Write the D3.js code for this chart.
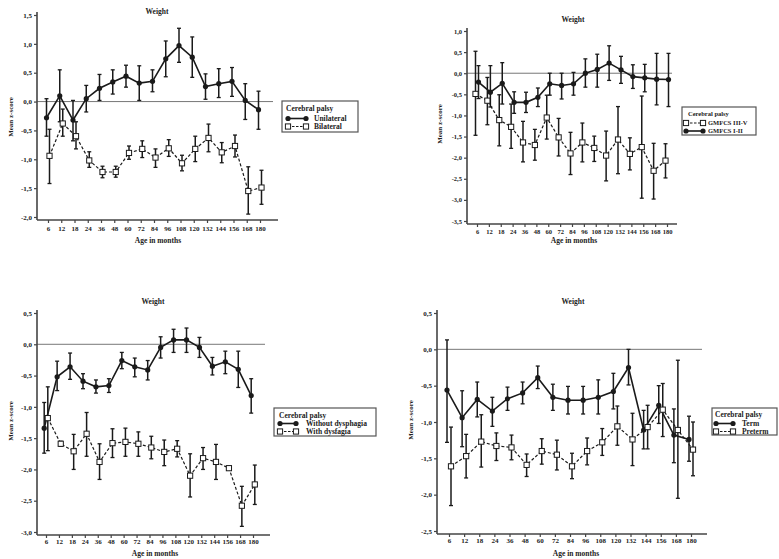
<!DOCTYPE html>
<html>
<head>
<meta charset="utf-8">
<script src="https://cdn.jsdelivr.net/npm/d3@7"></script>
<style>
html,body{margin:0;padding:0;background:#fff;}
svg text{font-family:"Liberation Serif","Times New Roman",serif;font-weight:bold;fill:#222;}
</style>
</head>
<body>
<svg id="chart" width="779" height="559"></svg>
<script>
// ---------- DATA ----------
const ages = [6,12,18,24,36,48,60,72,84,96,108,120,132,144,156,168,180];

// Panel 1: Unilateral vs Bilateral
const unilateralMean = [-0.28,0.10,-0.32,0.05,0.23,0.34,0.44,0.32,0.35,0.74,0.97,0.77,0.26,0.31,0.35,0.02,-0.14];
const unilateralLo   = [-0.60,-0.35,-0.68,-0.18,0.02,0.13,0.25,0.02,0.17,0.43,0.68,0.42,0.04,0.07,0.09,-0.31,-0.48];
const unilateralHi   = [0.05,0.55,0.02,0.28,0.47,0.55,0.63,0.62,0.55,1.05,1.27,1.12,0.48,0.57,0.59,0.31,0.18];
const bilateralMean  = [-0.94,-0.38,-0.60,-1.02,-1.22,-1.22,-0.89,-0.82,-0.97,-0.81,-1.07,-0.82,-0.63,-0.88,-0.77,-1.55,-1.49];
const bilateralLo    = [-1.42,-0.60,-0.82,-1.14,-1.32,-1.31,-1.00,-0.97,-1.14,-0.95,-1.20,-1.04,-0.87,-1.06,-0.96,-1.95,-1.78];
const bilateralHi    = [-0.48,-0.13,-0.35,-0.87,-1.12,-1.12,-0.77,-0.68,-0.82,-0.66,-0.93,-0.60,-0.39,-0.71,-0.58,-1.13,-1.19];

// Panel 2: GMFCS I-II vs III-V
const gmfcs12Mean = [-0.21,-0.45,-0.24,-0.69,-0.69,-0.57,-0.25,-0.29,-0.25,0.00,0.09,0.24,0.08,-0.08,-0.11,-0.14,-0.15];
const gmfcs12Lo   = [-0.60,-0.80,-0.73,-0.95,-0.93,-0.79,-0.52,-0.61,-0.52,-0.33,-0.33,-0.17,-0.24,-0.36,-0.44,-0.75,-0.79];
const gmfcs12Hi   = [0.18,0.18,0.25,-0.44,-0.45,-0.35,0.00,0.00,0.02,0.34,0.45,0.65,0.40,0.20,0.21,0.47,0.47];
const gmfcs35Mean = [-0.49,-0.65,-1.11,-1.27,-1.64,-1.70,-1.05,-1.52,-1.90,-1.64,-1.77,-1.95,-1.57,-1.91,-1.75,-2.31,-2.07];
const gmfcs35Lo   = [-1.47,-1.22,-1.72,-1.78,-2.10,-2.06,-1.56,-1.96,-2.40,-2.10,-2.09,-2.55,-2.38,-2.29,-2.96,-2.98,-2.48];
const gmfcs35Hi   = [0.52,-0.10,-0.51,-0.73,-1.14,-1.33,-0.52,-1.07,-1.40,-1.18,-1.49,-1.37,-0.79,-1.53,-0.54,-1.66,-1.67];

// Panel 3: Without vs With dysphagia
const withoutMean = [-1.34,-0.52,-0.36,-0.59,-0.68,-0.66,-0.26,-0.36,-0.41,-0.05,0.07,0.07,-0.05,-0.35,-0.28,-0.40,-0.82];
const withoutLo   = [-1.74,-0.74,-0.56,-0.71,-0.78,-0.77,-0.39,-0.52,-0.57,-0.22,-0.13,-0.13,-0.21,-0.49,-0.47,-0.69,-1.10];
const withoutHi   = [-0.93,-0.27,-0.14,-0.47,-0.57,-0.55,-0.13,-0.22,-0.26,0.12,0.24,0.26,0.11,-0.21,-0.11,-0.11,-0.55];
const withMean    = [-1.18,-1.59,-1.71,-1.43,-1.88,-1.58,-1.56,-1.59,-1.65,-1.72,-1.67,-2.10,-1.82,-1.88,-1.98,-2.58,-2.24];
const withLo      = [-1.70,-1.63,-2.00,-1.79,-2.16,-1.81,-1.79,-1.79,-1.83,-1.94,-1.80,-2.44,-2.00,-2.16,-1.98,-2.91,-2.56];
const withHi      = [-0.68,-1.55,-1.44,-1.09,-1.59,-1.35,-1.34,-1.40,-1.47,-1.53,-1.54,-1.75,-1.65,-1.60,-1.98,-2.27,-1.93];

// Panel 4: Term vs Preterm
const termMean    = [-0.56,-0.94,-0.69,-0.85,-0.68,-0.60,-0.39,-0.66,-0.70,-0.70,-0.66,-0.58,-0.25,-1.11,-0.77,-1.18,-1.24];
const termLo      = [-1.28,-1.34,-0.93,-1.06,-0.84,-0.75,-0.54,-0.84,-0.89,-0.89,-0.89,-0.82,-0.49,-1.37,-1.02,-1.56,-1.54];
const termHi      = [0.13,-0.57,-0.45,-0.66,-0.52,-0.45,-0.23,-0.48,-0.51,-0.51,-0.42,-0.33,0.00,-0.84,-0.50,-0.82,-0.92];
const pretermMean = [-1.61,-1.47,-1.27,-1.33,-1.35,-1.59,-1.40,-1.45,-1.61,-1.40,-1.28,-1.06,-1.24,-1.07,-0.83,-1.11,-1.38];
const pretermLo   = [-2.15,-1.77,-1.62,-1.53,-1.52,-1.75,-1.58,-1.66,-1.78,-1.59,-1.46,-1.32,-1.60,-1.37,-1.20,-2.05,-1.74];
const pretermHi   = [-1.07,-1.17,-0.90,-1.15,-1.18,-1.44,-1.23,-1.25,-1.43,-1.22,-1.09,-0.78,-0.88,-0.77,-0.47,-0.15,-1.00];

const titleText = "Weight";
const xLabelText = "Age in months";
const yLabelText = "Mean z-score";
const legendTitle = "Cerebral palsy";

const yTicks1 = [-2,-1.5,-1,-0.5,0,0.5,1,1.5];
const yTicks2 = [-3.5,-3,-2.5,-2,-1.5,-1,-0.5,0,0.5,1];
const yTicks3 = [-3,-2.5,-2,-1.5,-1,-0.5,0,0.5];
const yTicks4 = [-2.5,-2,-1.5,-1,-0.5,0,0.5];

// ---------- LAYOUT ----------
const panels = [
  { yDomain:[-2,1.5], yRange:[217,15], yTicks:yTicks1, xRange:[48,260], axisX:37, axisY:220, axisEnd:278, zeroEnd:273,
    title:[157,14], xlab:[158,243], ylab:[11,117], tickFont:7, xPad:3,
    series:[
      {name:"Unilateral", mean:unilateralMean, lo:unilateralLo, hi:unilateralHi, filled:true, dx:-1.5},
      {name:"Bilateral", mean:bilateralMean, lo:bilateralLo, hi:bilateralHi, filled:false, dx:1.5}],
    legend:{x:282,y:101,w:76,h:31, tx:286, ty:111, rows:[118.5,126.5], sx:[288,306], textX:314, font:7.5, order:[0,1]} },
  { yDomain:[-3.5,1.0], yRange:[221,31], yTicks:yTicks2, xRange:[477,667], axisX:467, axisY:224, axisEnd:677, zeroEnd:672,
    title:[573,22], xlab:[574,243], ylab:[440,124], tickFont:6.5, xPad:2,
    series:[
      {name:"GMFCS I-II", mean:gmfcs12Mean, lo:gmfcs12Lo, hi:gmfcs12Hi, filled:true, dx:1.5},
      {name:"GMFCS III-V", mean:gmfcs35Mean, lo:gmfcs35Lo, hi:gmfcs35Hi, filled:false, dx:-1.5}],
    legend:{x:682,y:107,w:74,h:28, tx:688, ty:116, rows:[123,131], sx:[686,703], textX:708, font:6.5, order:[1,0]} },
  { yDomain:[-3,0.5], yRange:[532,313], yTicks:yTicks3, xRange:[46,253], axisX:37, axisY:535, axisEnd:270, zeroEnd:265,
    title:[153,304], xlab:[155,556], ylab:[11,421], tickFont:7, xPad:1,
    series:[
      {name:"Without dysphagia", mean:withoutMean, lo:withoutLo, hi:withoutHi, filled:true, dx:-1.8},
      {name:"With dysfagia", mean:withMean, lo:withLo, hi:withHi, filled:false, dx:1.8}],
    legend:{x:274,y:408,w:102,h:28, tx:279, ty:417.5, rows:[423.5,431.5], sx:[280,296], textX:306, font:7.5, order:[0,1]} },
  { yDomain:[-2.5,0.5], yRange:[531,313], yTicks:yTicks4, xRange:[449,691], axisX:437, axisY:534, axisEnd:707, zeroEnd:702,
    title:[573,304], xlab:[576,556], ylab:[411,420], tickFont:7, xPad:1,
    series:[
      {name:"Term", mean:termMean, lo:termLo, hi:termHi, filled:true, dx:-2},
      {name:"Preterm", mean:pretermMean, lo:pretermLo, hi:pretermHi, filled:false, dx:2}],
    legend:{x:712,y:408,w:65,h:27, tx:715, ty:417, rows:[423.5,431.5], sx:[716,733], textX:742, font:7.5, order:[0,1]} }
];

const fmt = v => d3.format(".1f")(v).replace(".", ",").replace("−","-");

const svg = d3.select("#chart");
const ink = "#1a1a1a";

function drawMarker(g, x, y, filled){
  if(filled){
    g.append("circle").attr("cx",x).attr("cy",y).attr("r",2.6).attr("fill",ink);
  } else {
    g.append("rect").attr("x",x-2.6).attr("y",y-2.6).attr("width",5.2).attr("height",5.2)
      .attr("fill","#fff").attr("stroke",ink).attr("stroke-width",1);
  }
}

panels.forEach(p => {
  const g = svg.append("g");
  const y = d3.scaleLinear().domain(p.yDomain).range(p.yRange);
  const x = d3.scalePoint().domain(ages).range(p.xRange);

  // zero reference line
  g.append("line").attr("x1",p.axisX).attr("x2",p.zeroEnd).attr("y1",y(0)).attr("y2",y(0))
    .attr("stroke","#777").attr("stroke-width",1);

  // y axis
  const yAxis = d3.axisLeft(y).tickValues(p.yTicks).tickSize(3).tickPadding(2).tickFormat(fmt);
  const ya = g.append("g").attr("transform",`translate(${p.axisX},0)`).call(yAxis);
  ya.select(".domain").attr("d",`M0,${p.yRange[1]-3}V${p.axisY}`).attr("stroke","#444").attr("stroke-width",1.6);
  ya.selectAll(".tick line").attr("stroke","#444").attr("stroke-width",1.2);
  ya.selectAll(".tick text").style("font-size",p.tickFont+"px").attr("fill","#222");

  // x axis
  const xAxis = d3.axisBottom(x).tickSize(3).tickPadding(p.xPad);
  const xa = g.append("g").attr("transform",`translate(0,${p.axisY})`).call(xAxis);
  xa.select(".domain").attr("d",`M${p.axisX},0H${p.axisEnd}`).attr("stroke","#444").attr("stroke-width",1.6);
  xa.selectAll(".tick line").attr("stroke","#444").attr("stroke-width",1.2);
  xa.selectAll(".tick text").style("font-size",p.tickFont+"px").attr("fill","#222");

  // titles
  g.append("text").attr("x",p.title[0]).attr("y",p.title[1]).attr("text-anchor","middle")
    .style("font-size","7.5px").text(titleText);
  g.append("text").attr("x",p.xlab[0]).attr("y",p.xlab[1]).attr("text-anchor","middle")
    .style("font-size","7.5px").text(xLabelText);
  g.append("text").attr("transform",`translate(${p.ylab[0]},${p.ylab[1]}) rotate(-90)`).attr("text-anchor","middle")
    .attr("dy","0.35em").style("font-size","7px").text(yLabelText);

  // series
  p.series.forEach(s => {
    const sg = g.append("g");
    const pts = ages.map((a,i)=>({a, m:s.mean[i], lo:s.lo[i], hi:s.hi[i]}));
    pts.forEach(d => {
      const cx = x(d.a)+s.dx;
      sg.append("line").attr("x1",cx).attr("x2",cx).attr("y1",y(d.hi)).attr("y2",y(d.lo))
        .attr("stroke",ink).attr("stroke-width",1.5);
      [d.hi,d.lo].forEach(v => sg.append("line").attr("x1",cx-2).attr("x2",cx+2).attr("y1",y(v)).attr("y2",y(v))
        .attr("stroke",ink).attr("stroke-width",1.3));
    });
    const line = d3.line().x(d=>x(d.a)+s.dx).y(d=>y(d.m));
    sg.append("path").attr("d",line(pts)).attr("fill","none").attr("stroke",ink)
      .attr("stroke-width",s.filled?1.6:1.2).attr("stroke-dasharray",s.filled?null:"3,2");
    pts.forEach(d => drawMarker(sg, x(d.a)+s.dx, y(d.m), s.filled));
  });

  // legend
  const L = p.legend;
  const lg = g.append("g");
  lg.append("rect").attr("x",L.x).attr("y",L.y).attr("width",L.w).attr("height",L.h)
    .attr("fill","#fff").attr("stroke","#555").attr("stroke-width",1.2);
  lg.append("text").attr("x",L.tx).attr("y",L.ty).style("font-size",L.font+"px").text(legendTitle);
  L.order.forEach((si,k) => {
    const s = p.series[si];
    const ry = L.rows[k];
    lg.append("line").attr("x1",L.sx[0]).attr("x2",L.sx[1]).attr("y1",ry).attr("y2",ry)
      .attr("stroke",ink).attr("stroke-width",s.filled?1.6:1.1).attr("stroke-dasharray",s.filled?null:"2.5,1.5");
    drawMarker(lg, L.sx[0], ry, s.filled);
    drawMarker(lg, L.sx[1], ry, s.filled);
    lg.append("text").attr("x",L.textX).attr("y",ry).attr("dy","0.35em").style("font-size",L.font+"px").text(s.name);
  });
});
</script>
</body>
</html>
